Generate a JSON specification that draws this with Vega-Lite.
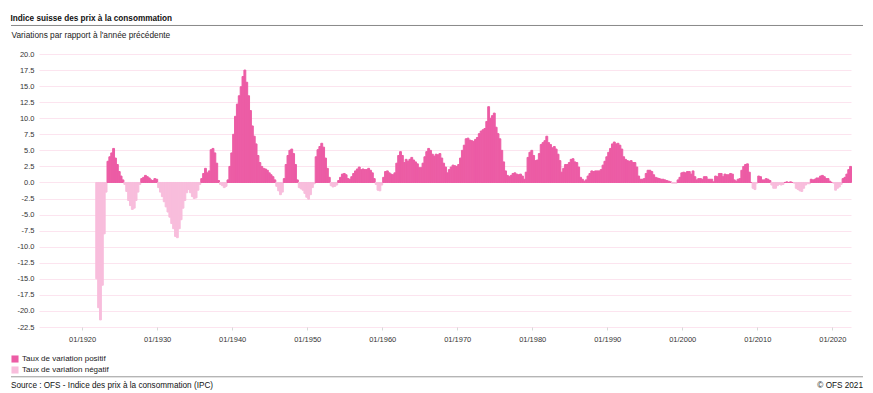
{
"$schema": "https://vega.github.io/schema/vega-lite/v6.json",
"width": 812, "height": 273,
"padding": {"left": 10, "top": 13, "right": 11, "bottom": 4},
"background": "white",
"config": {"font": "Liberation Sans", "view": {"stroke": null}, "locale": {"number": {"decimal": ".", "thousands": ",", "grouping": [3], "currency": ["", ""], "minus": "-"}}},
"title": {"text": "Indice suisse des prix à la consommation", "anchor": "start", "frame": "bounds", "fontSize": 8.2, "fontWeight": "bold", "color": "#111", "offset": 2},
"layer": [
{
"data": {"values": [
{"d":"1921-11","v":-15},
{"d":"1922-02","v":-19.5},{"d":"1922-05","v":-21.4},{"d":"1922-08","v":-16},{"d":"1922-11","v":-8},
{"d":"1923-02","v":-1.5},{"d":"1923-05","v":3.3},{"d":"1923-08","v":4.0},{"d":"1923-11","v":4.6},
{"d":"1924-02","v":5.3},{"d":"1924-05","v":3.8},{"d":"1924-08","v":2.8},{"d":"1924-11","v":1.7},
{"d":"1925-02","v":1.0},{"d":"1925-05","v":0.4},{"d":"1925-08","v":-0.3},{"d":"1925-11","v":-1.4},
{"d":"1926-02","v":-2.8},{"d":"1926-05","v":-3.6},{"d":"1926-08","v":-4.2},{"d":"1926-11","v":-4.0},
{"d":"1927-02","v":-2.8},{"d":"1927-05","v":-1.5},{"d":"1927-08","v":-0.3},{"d":"1927-11","v":0.6},
{"d":"1928-02","v":0.8},{"d":"1928-05","v":1.1},{"d":"1928-08","v":0.9},{"d":"1928-11","v":0.7},
{"d":"1929-02","v":0.4},{"d":"1929-05","v":0.3},{"d":"1929-08","v":0.6},{"d":"1929-11","v":0.5},
{"d":"1930-02","v":-0.8},{"d":"1930-05","v":-1.5},{"d":"1930-08","v":-2.2},{"d":"1930-11","v":-3.0},
{"d":"1931-02","v":-3.8},{"d":"1931-05","v":-4.6},{"d":"1931-08","v":-5.4},{"d":"1931-11","v":-6.4},
{"d":"1932-02","v":-7.2},{"d":"1932-05","v":-8.4},{"d":"1932-08","v":-8.6},{"d":"1932-11","v":-7.2},
{"d":"1933-02","v":-5.8},{"d":"1933-05","v":-4.0},{"d":"1933-08","v":-2.8},{"d":"1933-11","v":-1.6},
{"d":"1934-02","v":-1.1},{"d":"1934-05","v":-1.6},{"d":"1934-08","v":-2.2},{"d":"1934-11","v":-2.5},
{"d":"1935-02","v":-2.4},{"d":"1935-05","v":-1.2},{"d":"1935-08","v":-0.3},{"d":"1935-11","v":0.6},
{"d":"1936-02","v":1.4},{"d":"1936-05","v":2.2},{"d":"1936-08","v":1.5},{"d":"1936-11","v":1.8},
{"d":"1937-02","v":5.1},{"d":"1937-05","v":5.3},{"d":"1937-08","v":4.6},{"d":"1937-11","v":3.0},
{"d":"1938-02","v":0.3},{"d":"1938-05","v":-0.3},{"d":"1938-08","v":-0.5},{"d":"1938-11","v":-0.8},
{"d":"1939-02","v":-0.6},{"d":"1939-05","v":0.4},{"d":"1939-08","v":2.5},{"d":"1939-11","v":4.6},
{"d":"1940-02","v":7.5},{"d":"1940-05","v":10.3},{"d":"1940-08","v":12.2},{"d":"1940-11","v":13.5},
{"d":"1941-02","v":14.9},{"d":"1941-05","v":16.5},{"d":"1941-08","v":17.5},{"d":"1941-11","v":15.6},
{"d":"1942-02","v":13.5},{"d":"1942-05","v":11.2},{"d":"1942-08","v":8.8},{"d":"1942-11","v":7.2},
{"d":"1943-02","v":6.0},{"d":"1943-05","v":4.2},{"d":"1943-08","v":3.1},{"d":"1943-11","v":2.5},
{"d":"1944-02","v":2.2},{"d":"1944-05","v":2.1},{"d":"1944-08","v":1.9},{"d":"1944-11","v":1.5},
{"d":"1945-02","v":1.2},{"d":"1945-05","v":0.9},{"d":"1945-08","v":0.4},{"d":"1945-11","v":-0.6},
{"d":"1946-02","v":-1.3},{"d":"1946-05","v":-1.9},{"d":"1946-08","v":-1.5},{"d":"1946-11","v":0.6},
{"d":"1947-02","v":2.8},{"d":"1947-05","v":4.2},{"d":"1947-08","v":5.0},{"d":"1947-11","v":5.2},
{"d":"1948-02","v":4.5},{"d":"1948-05","v":2.8},{"d":"1948-08","v":0.4},{"d":"1948-11","v":-0.8},
{"d":"1949-02","v":-1.0},{"d":"1949-05","v":-1.2},{"d":"1949-08","v":-1.7},{"d":"1949-11","v":-2.3},
{"d":"1950-02","v":-2.6},{"d":"1950-05","v":-1.9},{"d":"1950-08","v":-0.8},{"d":"1950-11","v":-0.2},
{"d":"1951-02","v":4.0},{"d":"1951-05","v":5.1},{"d":"1951-08","v":5.6},{"d":"1951-11","v":6.1},
{"d":"1952-02","v":5.5},{"d":"1952-05","v":3.8},{"d":"1952-08","v":2.2},{"d":"1952-11","v":0.8},
{"d":"1953-02","v":-0.5},{"d":"1953-05","v":-0.7},{"d":"1953-08","v":-0.6},{"d":"1953-11","v":-0.4},
{"d":"1954-02","v":0.3},{"d":"1954-05","v":0.8},{"d":"1954-08","v":1.3},{"d":"1954-11","v":1.4},
{"d":"1955-02","v":1.2},{"d":"1955-05","v":0.6},{"d":"1955-08","v":0.5},{"d":"1955-11","v":0.9},
{"d":"1956-02","v":1.4},{"d":"1956-05","v":1.8},{"d":"1956-08","v":2.1},{"d":"1956-11","v":2.4},
{"d":"1957-02","v":2.0},{"d":"1957-05","v":2.1},{"d":"1957-08","v":2.0},{"d":"1957-11","v":2.0},
{"d":"1958-02","v":2.2},{"d":"1958-05","v":1.9},{"d":"1958-08","v":1.5},{"d":"1958-11","v":0.6},
{"d":"1959-02","v":-0.3},{"d":"1959-05","v":-1.2},{"d":"1959-08","v":-1.3},{"d":"1959-11","v":-0.4},
{"d":"1960-02","v":0.8},{"d":"1960-05","v":1.7},{"d":"1960-08","v":1.8},{"d":"1960-11","v":1.5},
{"d":"1961-02","v":1.3},{"d":"1961-05","v":1.2},{"d":"1961-08","v":1.5},{"d":"1961-11","v":3.0},
{"d":"1962-02","v":4.2},{"d":"1962-05","v":4.8},{"d":"1962-08","v":4.2},{"d":"1962-11","v":3.1},
{"d":"1963-02","v":3.6},{"d":"1963-05","v":3.3},{"d":"1963-08","v":3.6},{"d":"1963-11","v":3.9},
{"d":"1964-02","v":3.5},{"d":"1964-05","v":3.2},{"d":"1964-08","v":2.9},{"d":"1964-11","v":2.3},
{"d":"1965-02","v":2.3},{"d":"1965-05","v":3.0},{"d":"1965-08","v":4.0},{"d":"1965-11","v":4.8},
{"d":"1966-02","v":5.3},{"d":"1966-05","v":5.0},{"d":"1966-08","v":4.4},{"d":"1966-11","v":4.1},
{"d":"1967-02","v":4.4},{"d":"1967-05","v":4.3},{"d":"1967-08","v":4.5},{"d":"1967-11","v":3.8},
{"d":"1968-02","v":3.0},{"d":"1968-05","v":2.4},{"d":"1968-08","v":1.5},{"d":"1968-11","v":2.0},
{"d":"1969-02","v":2.4},{"d":"1969-05","v":2.7},{"d":"1969-08","v":2.6},{"d":"1969-11","v":2.5},
{"d":"1970-02","v":2.8},{"d":"1970-05","v":3.8},{"d":"1970-08","v":5.0},{"d":"1970-11","v":5.8},
{"d":"1971-02","v":6.8},{"d":"1971-05","v":6.9},{"d":"1971-08","v":6.6},{"d":"1971-11","v":6.5},
{"d":"1972-02","v":6.4},{"d":"1972-05","v":6.7},{"d":"1972-08","v":7.0},{"d":"1972-11","v":7.6},
{"d":"1973-02","v":8.0},{"d":"1973-05","v":8.2},{"d":"1973-08","v":8.4},{"d":"1973-11","v":9.5},
{"d":"1974-02","v":11.8},{"d":"1974-05","v":10.0},{"d":"1974-08","v":10.4},{"d":"1974-11","v":10.8},
{"d":"1975-02","v":8.6},{"d":"1975-05","v":7.6},{"d":"1975-08","v":6.8},{"d":"1975-11","v":5.0},
{"d":"1976-02","v":3.2},{"d":"1976-05","v":1.8},{"d":"1976-08","v":1.1},{"d":"1976-11","v":0.9},
{"d":"1977-02","v":1.1},{"d":"1977-05","v":1.4},{"d":"1977-08","v":1.5},{"d":"1977-11","v":1.3},
{"d":"1978-02","v":1.2},{"d":"1978-05","v":1.3},{"d":"1978-08","v":1.0},{"d":"1978-11","v":0.5},
{"d":"1979-02","v":1.6},{"d":"1979-05","v":3.9},{"d":"1979-08","v":4.7},{"d":"1979-11","v":5.0},
{"d":"1980-02","v":4.2},{"d":"1980-05","v":3.4},{"d":"1980-08","v":3.5},{"d":"1980-11","v":4.5},
{"d":"1981-02","v":5.9},{"d":"1981-05","v":6.2},{"d":"1981-08","v":6.5},{"d":"1981-11","v":7.2},
{"d":"1982-02","v":6.2},{"d":"1982-05","v":5.9},{"d":"1982-08","v":5.4},{"d":"1982-11","v":5.6},
{"d":"1983-02","v":5.2},{"d":"1983-05","v":4.4},{"d":"1983-08","v":3.4},{"d":"1983-11","v":1.6},
{"d":"1984-02","v":2.2},{"d":"1984-05","v":2.8},{"d":"1984-08","v":2.8},{"d":"1984-11","v":3.1},
{"d":"1985-02","v":3.6},{"d":"1985-05","v":3.7},{"d":"1985-08","v":3.2},{"d":"1985-11","v":3.1},
{"d":"1986-02","v":2.4},{"d":"1986-05","v":0.8},{"d":"1986-08","v":0.5},{"d":"1986-11","v":0.2},
{"d":"1987-02","v":0.4},{"d":"1987-05","v":1.0},{"d":"1987-08","v":1.4},{"d":"1987-11","v":1.8},
{"d":"1988-02","v":1.7},{"d":"1988-05","v":1.8},{"d":"1988-08","v":1.8},{"d":"1988-11","v":1.8},
{"d":"1989-02","v":2.0},{"d":"1989-05","v":2.7},{"d":"1989-08","v":3.3},{"d":"1989-11","v":4.0},
{"d":"1990-02","v":4.7},{"d":"1990-05","v":5.3},{"d":"1990-08","v":6.0},{"d":"1990-11","v":6.3},
{"d":"1991-02","v":6.0},{"d":"1991-05","v":6.1},{"d":"1991-08","v":5.8},{"d":"1991-11","v":5.2},
{"d":"1992-02","v":4.0},{"d":"1992-05","v":3.6},{"d":"1992-08","v":3.4},{"d":"1992-11","v":3.3},
{"d":"1993-02","v":3.4},{"d":"1993-05","v":3.1},{"d":"1993-08","v":3.1},{"d":"1993-11","v":2.4},
{"d":"1994-02","v":1.0},{"d":"1994-05","v":0.5},{"d":"1994-08","v":0.5},{"d":"1994-11","v":0.6},
{"d":"1995-02","v":1.4},{"d":"1995-05","v":1.9},{"d":"1995-08","v":1.9},{"d":"1995-11","v":1.7},
{"d":"1996-02","v":1.2},{"d":"1996-05","v":0.8},{"d":"1996-08","v":0.7},{"d":"1996-11","v":0.6},
{"d":"1997-02","v":0.5},{"d":"1997-05","v":0.5},{"d":"1997-08","v":0.4},{"d":"1997-11","v":0.3},
{"d":"1998-02","v":0.2},{"d":"1998-05","v":0.1},{"d":"1998-08","v":-0.1},{"d":"1998-11","v":-0.1},
{"d":"1999-02","v":-0.1},{"d":"1999-05","v":0.4},{"d":"1999-08","v":0.8},{"d":"1999-11","v":1.5},
{"d":"2000-02","v":1.6},{"d":"2000-05","v":1.5},{"d":"2000-08","v":1.7},{"d":"2000-11","v":1.7},
{"d":"2001-02","v":1.3},{"d":"2001-05","v":1.8},{"d":"2001-08","v":0.9},{"d":"2001-11","v":0.4},
{"d":"2002-02","v":0.6},{"d":"2002-05","v":0.6},{"d":"2002-08","v":0.5},{"d":"2002-11","v":0.9},
{"d":"2003-02","v":0.9},{"d":"2003-05","v":0.5},{"d":"2003-08","v":0.5},{"d":"2003-11","v":0.5},
{"d":"2004-02","v":0.1},{"d":"2004-05","v":1.0},{"d":"2004-08","v":0.9},{"d":"2004-11","v":1.4},
{"d":"2005-02","v":1.4},{"d":"2005-05","v":0.9},{"d":"2005-08","v":1.3},{"d":"2005-11","v":1.2},
{"d":"2006-02","v":1.2},{"d":"2006-05","v":1.4},{"d":"2006-08","v":1.3},{"d":"2006-11","v":0.4},
{"d":"2007-02","v":0.2},{"d":"2007-05","v":0.5},{"d":"2007-08","v":0.6},{"d":"2007-11","v":1.9},
{"d":"2008-02","v":2.5},{"d":"2008-05","v":2.8},{"d":"2008-08","v":2.9},{"d":"2008-11","v":1.6},
{"d":"2009-02","v":0.0},{"d":"2009-05","v":-0.9},{"d":"2009-08","v":-1.1},{"d":"2009-11","v":-0.1},
{"d":"2010-02","v":1.0},{"d":"2010-05","v":0.9},{"d":"2010-08","v":0.4},{"d":"2010-11","v":0.4},
{"d":"2011-02","v":0.6},{"d":"2011-05","v":0.5},{"d":"2011-08","v":0.3},{"d":"2011-11","v":-0.4},
{"d":"2012-02","v":-0.9},{"d":"2012-05","v":-0.9},{"d":"2012-08","v":-0.5},{"d":"2012-11","v":-0.3},
{"d":"2013-02","v":-0.4},{"d":"2013-05","v":-0.3},{"d":"2013-08","v":0.0},{"d":"2013-11","v":0.1},
{"d":"2014-02","v":0.0},{"d":"2014-05","v":0.1},{"d":"2014-08","v":0.0},{"d":"2014-11","v":-0.1},
{"d":"2015-02","v":-0.9},{"d":"2015-05","v":-1.1},{"d":"2015-08","v":-1.3},{"d":"2015-11","v":-1.4},
{"d":"2016-02","v":-0.9},{"d":"2016-05","v":-0.4},{"d":"2016-08","v":-0.2},{"d":"2016-11","v":-0.2},
{"d":"2017-02","v":0.5},{"d":"2017-05","v":0.4},{"d":"2017-08","v":0.5},{"d":"2017-11","v":0.7},
{"d":"2018-02","v":0.7},{"d":"2018-05","v":1.0},{"d":"2018-08","v":1.1},{"d":"2018-11","v":0.9},
{"d":"2019-02","v":0.6},{"d":"2019-05","v":0.6},{"d":"2019-08","v":0.2},{"d":"2019-11","v":0.0},
{"d":"2020-02","v":-0.1},{"d":"2020-05","v":-1.2},{"d":"2020-08","v":-0.9},{"d":"2020-11","v":-0.7},
{"d":"2021-02","v":-0.3},{"d":"2021-05","v":0.6},{"d":"2021-08","v":0.8},{"d":"2021-11","v":1.3},
{"d":"2022-02","v":2.0},{"d":"2022-05","v":2.5}
]},
"transform": [{"calculate": "datum.v < 0 ? 'Taux de variation négatif' : 'Taux de variation positif'", "as": "s"}],
"mark": {"type": "bar", "strokeWidth": 1, "binSpacing": 0},
"encoding": {
"x": {"field": "d", "type": "temporal", "timeUnit": "yearquarter",
 "scale": {"domain": [{"year": 1914, "month": 4, "date": 1}, {"year": 2022, "month": 7, "date": 1}]},
 "axis": {"title": null, "format": "%m/%Y", "tickCount": 30, "values": [{"year":1920,"month":1,"date":1},{"year":1930,"month":1,"date":1},{"year":1940,"month":1,"date":1},{"year":1950,"month":1,"date":1},{"year":1960,"month":1,"date":1},{"year":1970,"month":1,"date":1},{"year":1980,"month":1,"date":1},{"year":1990,"month":1,"date":1},{"year":2000,"month":1,"date":1},{"year":2010,"month":1,"date":1},{"year":2020,"month":1,"date":1}],
  "labelFontSize": 7.5, "labelColor": "#333", "domain": false, "grid": false, "ticks": true, "tickColor": "#d8d8d8", "tickSize": 3, "labelPadding": 5}},
"y": {"field": "v", "type": "quantitative", "scale": {"domain": [-22.5, 20], "nice": false, "zero": false},
 "axis": {"values": [-22.5,-20,-17.5,-15,-12.5,-10,-7.5,-5,-2.5,0,2.5,5,7.5,10,12.5,15,17.5,20], "tickCount": 40, "format": ".1f", "labelOverlap": false, "labelFlush": false,
  "labelFontSize": 7.5, "labelColor": "#333", "ticks": false, "domain": false, "gridColor": "#fce4ef", "gridWidth": 1, "labelPadding": 5,
  "title": "Variations par rapport à l'année précédente", "titleAngle": 0, "titleAlign": "left", "titleBaseline": "alphabetic", "titleX": -28, "titleY": -17, "titleFontSize": 8.3, "titleFontWeight": "normal", "titleColor": "#222"}},
"color": {"field": "s", "type": "nominal",
 "scale": {"domain": ["Taux de variation positif", "Taux de variation négatif"], "range": ["#ec5ca5", "#f8bddc"]},
 "legend": {"orient": "none", "legendX": -28, "legendY": 301, "title": null, "symbolType": "square", "symbolSize": 50, "symbolStrokeWidth": 0, "labelFontSize": 8, "labelColor": "#222", "rowPadding": 3, "labelOffset": 3, "padding": 0}},
"stroke": {"field": "s", "type": "nominal",
 "scale": {"domain": ["Taux de variation positif", "Taux de variation négatif"], "range": ["#ec5ca5", "#f8bddc"]},
 "legend": null}
}
},
{
"data": {"values": [{}]},
"mark": {"type": "rule", "color": "#888", "strokeWidth": 1},
"encoding": {
"x": {"datum": {"year": 1910, "month": 7, "date": 7}, "type": "temporal"},
"x2": {"datum": {"year": 2024, "month": 2, "date": 5}},
"y": {"datum": 24.44, "type": "quantitative"}
}
},
{
"data": {"values": [{}]},
"mark": {"type": "rule", "color": "#999", "strokeWidth": 1},
"encoding": {
"x": {"datum": {"year": 1910, "month": 7, "date": 7}, "type": "temporal"},
"x2": {"datum": {"year": 2024, "month": 2, "date": 5}},
"y": {"datum": -30.25, "type": "quantitative"}
}
},
{
"data": {"values": [{}]},
"mark": {"type": "text", "align": "left", "baseline": "alphabetic", "fontSize": 8.2, "color": "#111"},
"encoding": {
"x": {"datum": {"year": 1910, "month": 7, "date": 7}, "type": "temporal"},
"y": {"datum": -32.0, "type": "quantitative"},
"text": {"value": "Source : OFS - Indice des prix à la consommation (IPC)"}
}
},
{
"data": {"values": [{}]},
"mark": {"type": "text", "align": "right", "baseline": "alphabetic", "fontSize": 8.2, "color": "#111"},
"encoding": {
"x": {"datum": {"year": 2024, "month": 2, "date": 5}, "type": "temporal"},
"y": {"datum": -32.0, "type": "quantitative"},
"text": {"value": "© OFS 2021"}
}
}
]
}
